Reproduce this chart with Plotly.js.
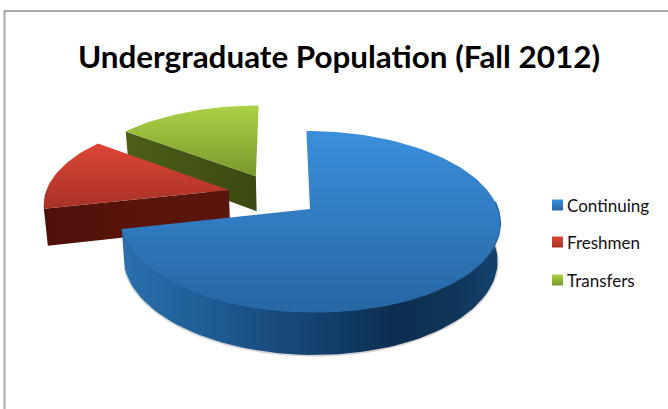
<!DOCTYPE html>
<html><head><meta charset="utf-8">
<script src="https://cdn.plot.ly/plotly-3.0.1.min.js"></script>
<style>html,body{margin:0;padding:0;background:#fff}#c{width:668px;height:409px}</style>
</head><body><div id="c"></div>
<script>
// Data
const categories = ["Continuing", "Freshmen", "Transfers"];
const shares = [71.5, 13.8, 14.7];
const titleText = "Undergraduate Population (Fall 2012)";

// Explosion of each slice, in pie radii
const explodeX = [0, -0.44, -0.295];
const explodeY = [0, 0.22, 0.39];

// Colours
const topStops = [["#3a8fdc", "#2766a3"], ["#dd4636", "#a63226"], ["#abd246", "#7a982c"]];
const legendStops = [["#3a8fdc", "#2766a3"], ["#dd4636", "#a63226"], ["#abd246", "#7a982c"]];

// Perspective camera for the tilted pie
const cam = {cx: 310, cy: 209, R: 188, A: 88.8, p: 0.138, shear: -0.022, depth: 37, taper: 0.985};
function project(X, Y, low) {
  const s = 1 / (1 + cam.p * Y);
  const k = low ? cam.taper : 1;
  return [cam.cx + cam.R * (X + cam.shear * Y) * s * k,
          cam.cy - cam.A * Y * s + (low ? cam.depth * s : 0)];
}
const total = shares.reduce((a, b) => a + b, 0);
const starts = [], ends = [];
shares.reduce((acc, v) => { starts.push(acc / total * 360); ends.push((acc + v) / total * 360); return acc + v; }, 0);
const rad = d => d * Math.PI / 180;
function rimPoint(i, deg, low) {
  return project(Math.sin(rad(deg)) + explodeX[i], Math.cos(rad(deg)) + explodeY[i], low);
}
function arc(i, a, b, low) {
  const n = Math.max(2, Math.ceil(Math.abs(b - a) / 2)), out = [];
  for (let j = 0; j <= n; j++) out.push(rimPoint(i, a + (b - a) * j / n, low));
  return out;
}
function poly(points, grad, name) {
  return {type: "scatter", mode: "lines", x: points.map(p => p[0]), y: points.map(p => p[1]),
          fill: "toself", line: {width: 0}, fillgradient: grad, hoverinfo: "skip",
          showlegend: false, name: name};
}
const grad = (type, pairs) => ({type: type, colorscale: pairs});
function topFace(i) {
  const apex = project(explodeX[i], explodeY[i], false);
  const pts = [apex].concat(arc(i, starts[i], ends[i], false), [apex]);
  // the y axis runs downward, so the gradient's 0 end is the lower edge of the face on the page
  return poly(pts, grad("vertical", [[0, topStops[i][1]], [1, topStops[i][0]]]), categories[i]);
}
function cutWall(i, deg, colors) {
  const apexTop = project(explodeX[i], explodeY[i], false);
  const apexLow = project(explodeX[i], explodeY[i], true);
  const rimTop = rimPoint(i, deg, false), rimLow = rimPoint(i, deg, true);
  return poly([apexTop, rimTop, rimLow, apexLow, apexTop],
              grad("horizontal", colors.map((c, k) => [k / (colors.length - 1), c])), categories[i]);
}
// Outer rim of the big slice; its upper edge tucks under the top face so no seam shows
const rimEdge = arc(0, ends[0], 86, false);
const rimTop = rimEdge.map((p, k) => k === 0 ? p : [p[0], p[1] - 2]);
const rimLow = arc(0, ends[0], 86, true);
const blueWall = poly(rimTop.concat(rimLow.slice().reverse(), [rimTop[0]]),
  grad("horizontal", [[0, "#2a70af"], [0.2, "#205f98"], [0.42, "#174a7a"], [0.58, "#113c66"], [0.72, "#0c2e50"],
                      [0.86, "#0f3557"], [1, "#14426d"]]), categories[0]);
const shadow = {type: "scatter", mode: "lines", x: rimLow.map(p => p[0]), y: rimLow.map(p => p[1] + 0.5),
  line: {color: "rgba(0,0,0,0.16)", width: 2.5}, hoverinfo: "skip", showlegend: false};
const seamCover = {type: "scatter", mode: "lines", x: rimEdge.map(p => p[0]), y: rimEdge.map(p => p[1]),
  line: {color: "#2969a8", width: 1.2}, hoverinfo: "skip", showlegend: false};

const traces = [
  cutWall(2, starts[2], ["#4c5f19", "#3b4a11"]),
  topFace(2),
  cutWall(1, starts[1], ["#4f1009", "#59140b", "#5a150c"]),
  topFace(1),
  shadow,
  blueWall,
  topFace(0),
  seamCover
];

// Key, one row per category
const keyY = [205, 242, 280];
const keyTextDrop = 2.5;
categories.forEach((c, i) => {
  traces.push({
    type: "scatter", mode: "markers", x: [557.5], y: [keyY[i]], name: c,
    marker: {symbol: "square", size: 11, color: legendStops[i][0],
             gradient: {type: "vertical", color: legendStops[i][1]}, line: {width: 0}},
    hoverinfo: "skip", showlegend: false, cliponaxis: false
  });
  traces.push({
    type: "scatter", mode: "text", x: [567], y: [keyY[i] + keyTextDrop], text: [c], name: c,
    textposition: "middle right", textfont: {family: "Lato, 'Open Sans', sans-serif", size: 17, color: "#111"},
    hoverinfo: "skip", showlegend: false, cliponaxis: false
  });
});

const layout = {
  width: 668, height: 409, margin: {l: 0, r: 0, t: 0, b: 0},
  paper_bgcolor: "#fff", plot_bgcolor: "#fff", showlegend: false,
  title: {text: "<b>" + titleText + "</b>", x: 339 / 668, xanchor: "center", y: 1 - 57 / 409, yanchor: "middle",
          font: {family: "Lato, 'Open Sans', sans-serif", size: 31.4, color: "#000"}},
  xaxis: {range: [0, 668], visible: false, fixedrange: true},
  yaxis: {range: [409, 0], visible: false, fixedrange: true},
  shapes: [
    {type: "line", xref: "x", yref: "y", x0: 4.5, y0: 11, x1: 668, y1: 11, line: {color: "#a9a9a9", width: 2}},
    {type: "line", xref: "x", yref: "y", x0: 4.5, y0: 10, x1: 4.5, y1: 409, line: {color: "#a9a9a9", width: 2}}
  ]
};
Plotly.newPlot("c", traces, layout, {displayModeBar: false, staticPlot: true});
</script></body></html>
